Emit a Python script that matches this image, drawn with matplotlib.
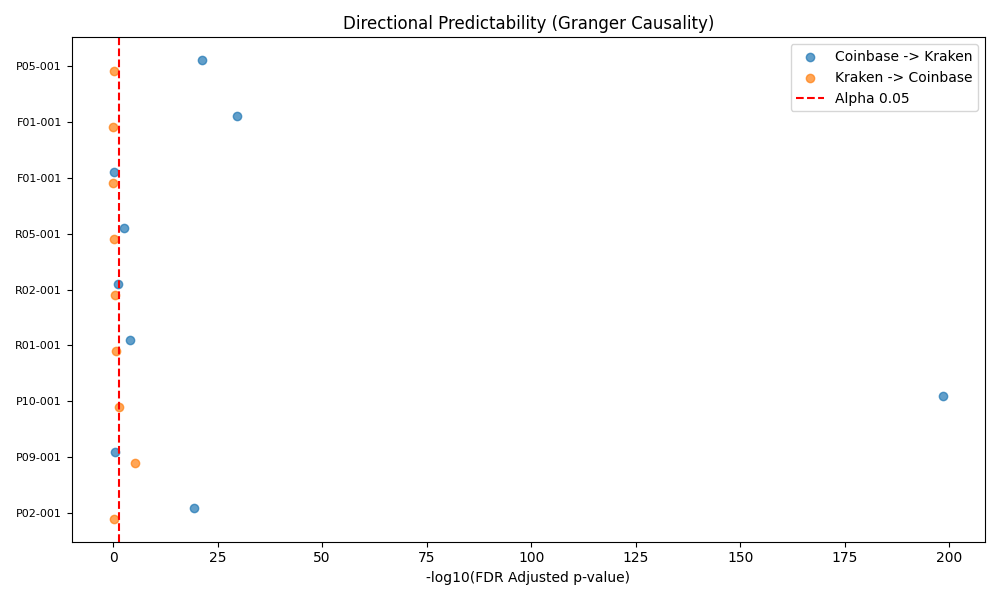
import numpy as np
import matplotlib
matplotlib.use("Agg")
import matplotlib.pyplot as plt

# pairs listed bottom to top
pairs = ["P02-001", "P09-001", "P10-001", "R01-001", "R02-001",
         "R05-001", "F01-001", "F01-001", "P05-001"]
cb_to_kr = [19.4, 0.5, 198.6, 4.1, 1.2, 2.5, 0.3, 29.7, 21.3]
kr_to_cb = [0.1, 5.3, 1.3, 0.7, 0.5, 0.2, 0.0, 0.0, 0.25]
alpha = 0.05

y = np.arange(len(pairs))

fig, ax = plt.subplots(figsize=(10, 6))
ax.scatter(cb_to_kr, y + 0.1, alpha=0.7, label="Coinbase -> Kraken")
ax.scatter(kr_to_cb, y - 0.1, alpha=0.7, label="Kraken -> Coinbase")
ax.axvline(-np.log10(alpha), color="red", linestyle="--", label="Alpha 0.05")
ax.set_yticks(y)
ax.set_yticklabels(pairs, fontsize=8)
ax.set_xlabel("-log10(FDR Adjusted p-value)")
ax.set_title("Directional Predictability (Granger Causality)")
ax.legend()
plt.tight_layout()
plt.savefig("out.png", dpi=100)
